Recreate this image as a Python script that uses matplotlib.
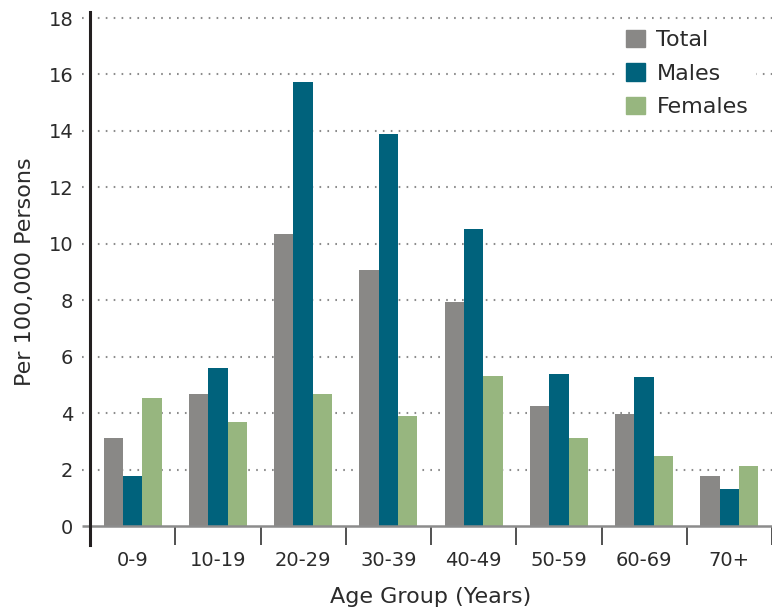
import matplotlib
matplotlib.use("Agg")
import matplotlib.pyplot as plt
from matplotlib.patches import Patch
import numpy as np

age_groups = ["0-9", "10-19", "20-29", "30-39", "40-49", "50-59", "60-69", "70+"]
total = [3.12, 4.68, 10.35, 9.07, 7.94, 4.25, 3.97, 1.77]
males = [1.77, 5.60, 15.73, 13.89, 10.52, 5.39, 5.28, 1.31]
females = [4.54, 3.69, 4.68, 3.90, 5.32, 3.12, 2.48, 2.13]

c_total = "#898886"
c_males = "#00627c"
c_females = "#97b67f"
txt = "#2b2b2b"

plt.rcParams["font.family"] = ["DejaVu Sans"]

fig = plt.figure(figsize=(7.72, 6.13), dpi=100)
ax = fig.add_axes([90 / 772, 87 / 613, 682 / 772, 508 / 613])

x = np.arange(len(age_groups))
w = 0.227
ax.bar(x - w, total, w, color=c_total, zorder=3)
ax.bar(x, males, w, color=c_males, zorder=3)
ax.bar(x + w, females, w, color=c_females, zorder=3)

ax.set_xlim(-0.5, len(age_groups) - 0.5)
ax.set_ylim(0, 18)

for s in ax.spines.values():
    s.set_visible(False)

# dotted gridlines that poke out left of the axis
yt = np.arange(2, 20, 2)
ax.hlines(yt, -0.595, 7.5, colors="#8c8c8c", linewidth=1.5,
          linestyles=(0, (0.8, 3.0)), zorder=1, clip_on=False)
# baseline
ax.hlines(0, -0.595, 7.5, colors="#8c8c8c", linewidth=1.8, zorder=4, clip_on=False)
# thick y axis line, running below the baseline
ax.plot([0, 0], [1.012, -0.038], transform=ax.transAxes, color="#231f20",
        linewidth=2.2, clip_on=False, zorder=5)

ax.set_yticks(np.arange(0, 20, 2))
ax.set_yticklabels([str(v) for v in range(0, 20, 2)])
ax.tick_params(axis="y", length=0, pad=12, labelsize=14, labelcolor=txt)

ax.set_xticks(x)
ax.set_xticklabels(age_groups)
ax.tick_params(axis="x", which="major", length=0, pad=18, labelsize=14, labelcolor=txt)
ax.set_xticks(x + 0.5, minor=True)
ax.tick_params(axis="x", which="minor", length=14, width=1.2, color="#333333", direction="out")

ax.set_xlabel("Age Group (Years)", fontsize=16, color=txt, labelpad=12)
ax.set_ylabel("Per 100,000 Persons", fontsize=16, color=txt, labelpad=10)

handles = [Patch(color=c_total, label="Total"),
           Patch(color=c_males, label="Males"),
           Patch(color=c_females, label="Females")]
leg = ax.legend(handles=handles, loc="upper right", bbox_to_anchor=(0.975, 0.99),
                frameon=True, fontsize=16, handlelength=0.85, handleheight=0.85,
                handletextpad=0.5, labelspacing=0.58, borderpad=0.3,
                borderaxespad=0.0)
leg.get_frame().set_edgecolor("white")
leg.get_frame().set_facecolor("white")
leg.get_frame().set_alpha(1)
for t in leg.get_texts():
    t.set_color(txt)

fig.savefig("out.png", dpi=100)
